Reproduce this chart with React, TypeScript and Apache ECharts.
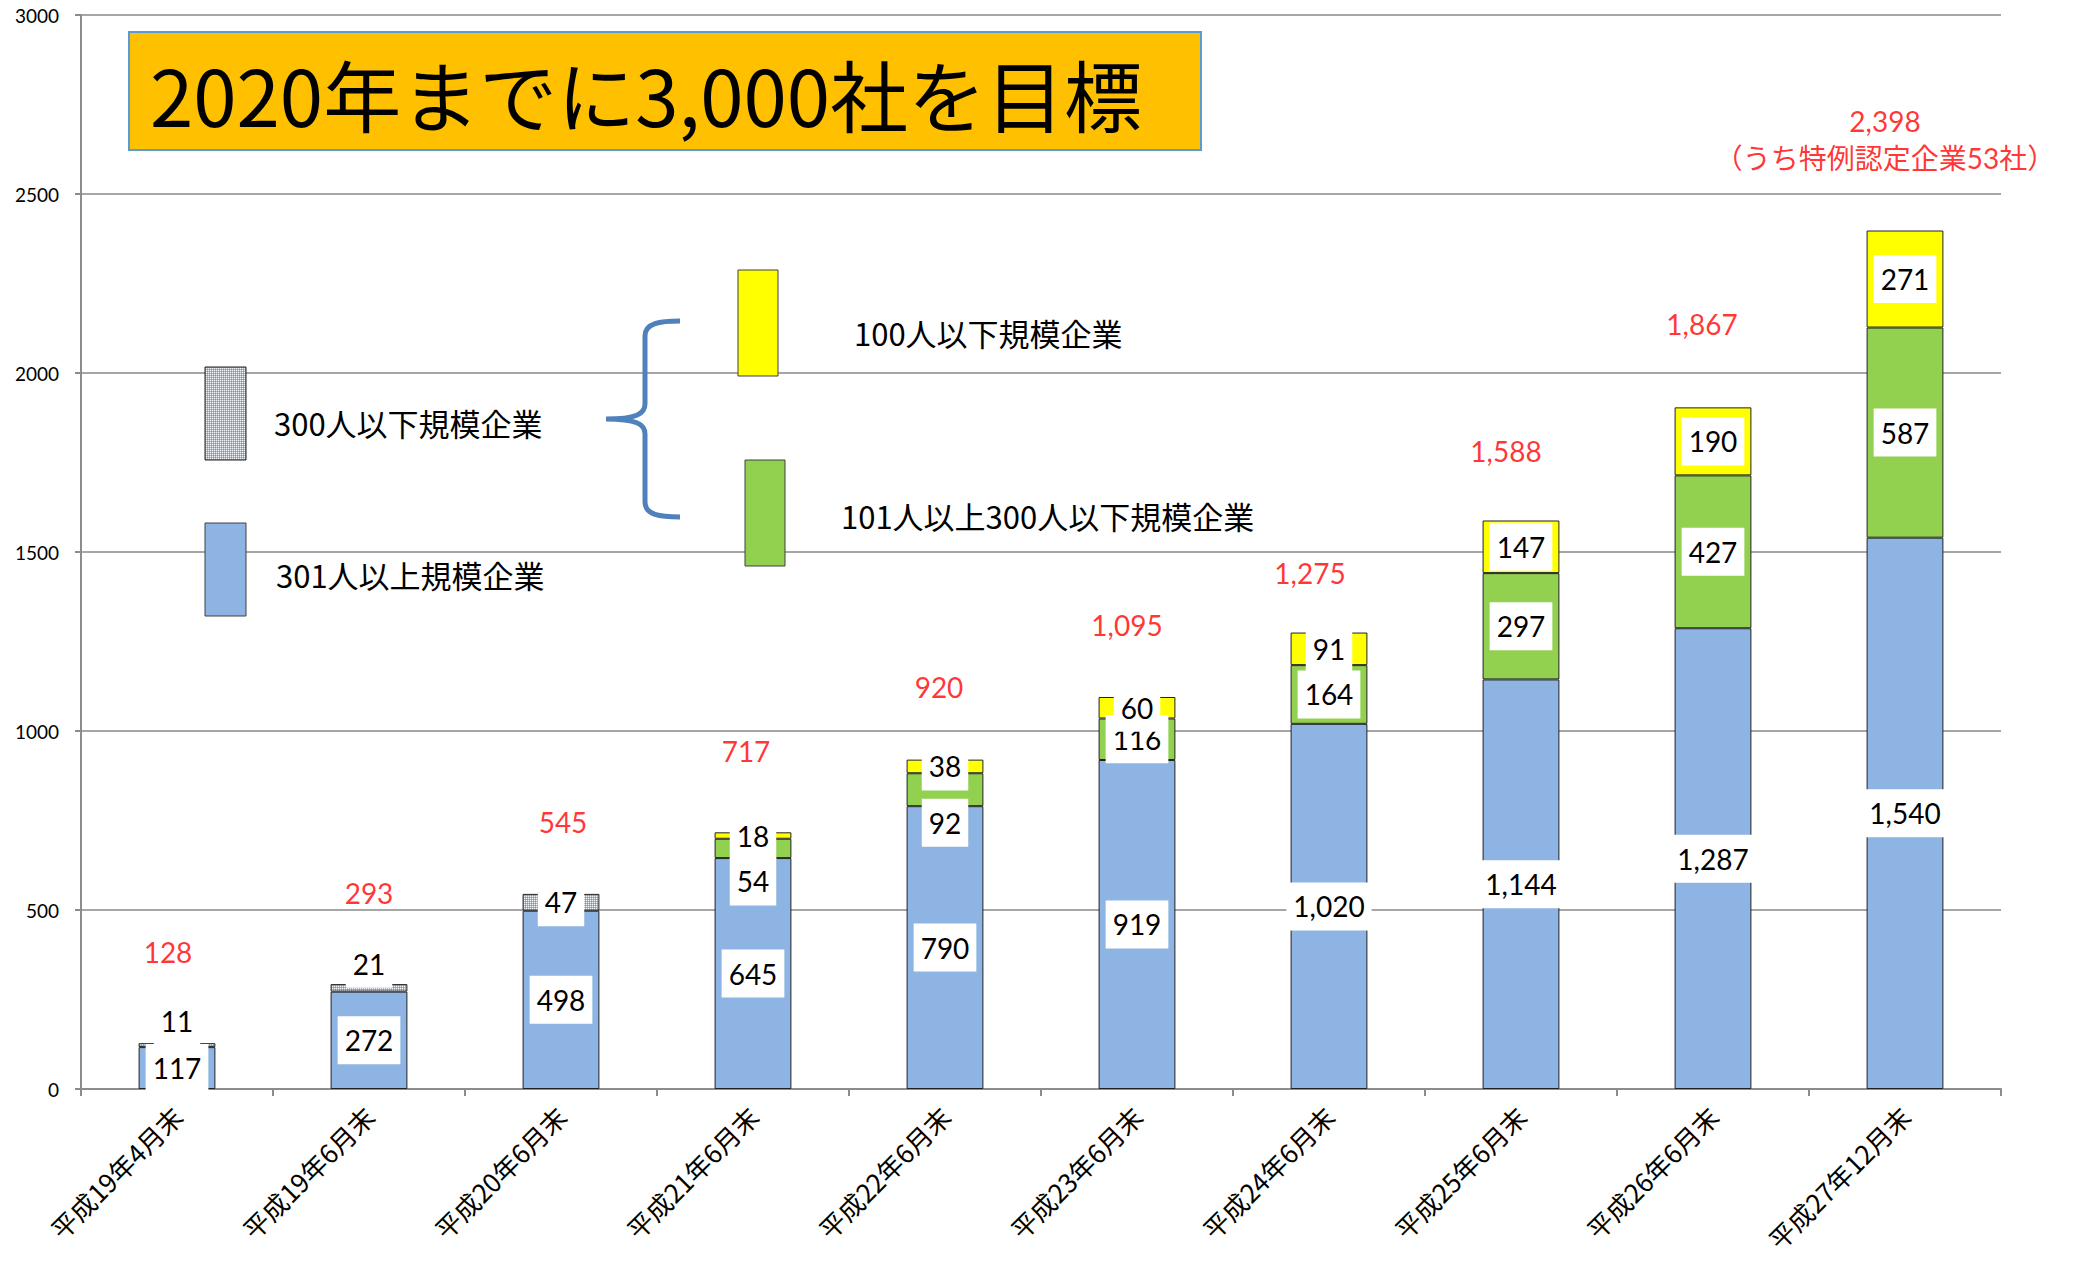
import React, { useEffect, useRef } from "react";
import * as echarts from "echarts";

// ---- data ----
const categories = [
  "平成19年4月末",
  "平成19年6月末",
  "平成20年6月末",
  "平成21年6月末",
  "平成22年6月末",
  "平成23年6月末",
  "平成24年6月末",
  "平成25年6月末",
  "平成26年6月末",
  "平成27年12月末",
];
const over300 = [117, 272, 498, 645, 790, 919, 1020, 1144, 1287, 1540];
const upTo300 = [11, 21, 47, null, null, null, null, null, null, null];
const from101to300 = [null, null, null, 54, 92, 116, 164, 297, 427, 587];
const upTo100 = [null, null, null, 18, 38, 60, 91, 147, 190, 271];
const totalLabels = [128, 293, 545, 717, 920, 1095, 1275, 1588, 1867, 2398];
const lastNote = "（うち特例認定企業53社）";
const seriesNames = ["301人以上規模企業", "300人以下規模企業", "101人以上300人以下規模企業", "100人以下規模企業"];
const titleText = "2020年までに3,000社を目標";

// ---- label placement styles (pixels) ----
const totalLift = [91, 91, 72, 81, 73, 72, 60, 69, 83, 91];
const totalDx = [-9, 0, 2, -7, -6, -10, -19, -15, -11, -20];

const NUM_FONT = "Lato, 'Noto Sans CJK JP', sans-serif";
const JP_FONT = "'Noto Sans CJK JP', sans-serif";

function fmt(v: number) {
  return Number(v).toLocaleString("en-US");
}

export default function App() {
  const ref = useRef<HTMLDivElement>(null);
  useEffect(() => {
    document.body.style.margin = "0";
    if (!ref.current) return;
    const chart = echarts.init(ref.current, null, { renderer: "svg" });

    const c = document.createElement("canvas");
    c.width = 2;
    c.height = 2;
    const ctx = c.getContext("2d")!;
    ctx.fillStyle = "#7896c6";
    ctx.fillRect(0, 0, 2, 2);
    ctx.fillStyle = "#f2f6fb";
    ctx.fillRect(0, 0, 1, 1);
    ctx.fillStyle = "#9cb6dc";
    ctx.fillRect(1, 0, 1, 1);
    ctx.fillRect(0, 1, 1, 1);
    const hatch: any = { image: c, repeat: "repeat", imageWidth: 2, imageHeight: 2 };

    try {
      echarts.graphic.registerShape(
        "brace",
        echarts.graphic.extendPath(
          "M680,321 C660,321 645,323 645,336 L645,404 C645,414 636,419 606,419 C636,419 645,424 645,434 L645,502 C645,515 660,517 680,517",
          {}
        )
      );
    } catch (e) {}

    const baseLabel = {
      show: true,
      position: "inside",
      backgroundColor: "#fff",
      padding: [7, 7],
      color: "#000",
      fontSize: 28,
      fontFamily: NUM_FONT,
      lineHeight: 34,
      formatter: (p: any) => fmt(p.value),
    };
    const border = { borderColor: "#222", borderWidth: 1 };

    const tops = categories.map((_, i) =>
      [over300, upTo300, from101to300, upTo100].reduce((s, arr) => s + (arr[i] || 0), 0)
    );

    const legendText = (x: number, y: number, text: string) => ({
      type: "text",
      z: 101,
      x,
      y,
      style: { text, fontSize: 31, fontFamily: JP_FONT, fill: "#000", verticalAlign: "middle" },
    });

    const option: any = {
      animation: false,
      backgroundColor: "#fff",
      grid: { left: 81, right: 77, top: 15, bottom: 174, containLabel: false },
      xAxis: {
        type: "category",
        data: categories,
        axisLine: { lineStyle: { color: "#8c8c8c", width: 2 } },
        axisTick: { show: true, length: 7, lineStyle: { color: "#8c8c8c", width: 2 } },
        axisLabel: {
          rotate: 45,
          interval: 0,
          fontSize: 26,
          fontFamily: JP_FONT,
          color: "#000",
          margin: 22,
        },
      },
      yAxis: {
        type: "value",
        min: 0,
        max: 3000,
        interval: 500,
        axisLine: { show: true, lineStyle: { color: "#8c8c8c", width: 2 } },
        axisTick: { show: true, length: 6, lineStyle: { color: "#8c8c8c", width: 2 } },
        splitLine: { lineStyle: { color: "#a6a6a6", width: 2 } },
        axisLabel: {
          fontSize: 19,
          fontFamily: NUM_FONT,
          color: "#000",
          margin: 22,
          formatter: (v: number) => String(v),
        },
      },
      series: [
        {
          name: seriesNames[0],
          type: "bar",
          stack: "total",
          barWidth: "40%",
          data: over300,
          itemStyle: { color: "#8EB4E3", ...border },
          label: baseLabel,
        },
        {
          name: seriesNames[1],
          type: "bar",
          stack: "total",
          data: upTo300.map((v, i) =>
            i < 2 ? { value: v, label: { offset: [0, -24] } } : v
          ),
          itemStyle: { color: hatch, ...border },
          label: baseLabel,
        },
        {
          name: seriesNames[2],
          type: "bar",
          stack: "total",
          data: from101to300.map((v, i) =>
            i === 3 || i === 4 ? { value: v, label: { offset: [0, 33] } } : v
          ),
          itemStyle: { color: "#92D050", ...border },
          label: baseLabel,
        },
        {
          name: seriesNames[3],
          type: "bar",
          stack: "total",
          data: upTo100,
          itemStyle: { color: "#FFFF00", ...border },
          label: baseLabel,
        },
        {
          name: "total",
          type: "scatter",
          symbolSize: 1,
          itemStyle: { color: "rgba(0,0,0,0)" },
          z: 10,
          data: tops.map((v, i) => ({
            value: v,
            label: { offset: [totalDx[i], -totalLift[i]] },
          })),
          label: {
            show: true,
            position: "inside",
            color: "#FF0000",
            fontSize: 28,
            fontFamily: NUM_FONT,
            lineHeight: 37,
            align: "center",
            formatter: (p: any) => {
              const i = p.dataIndex;
              const t = fmt(totalLabels[i]);
              return i === totalLabels.length - 1 ? t + "\n" + lastNote : t;
            },
          },
        },
      ],
      graphic: [
        {
          type: "rect",
          z: 100,
          shape: { x: 129, y: 32, width: 1072, height: 118 },
          style: { fill: "#FFC000", stroke: "#5B9BD5", lineWidth: 2 },
        },
        {
          type: "text",
          z: 101,
          x: 150,
          y: 93,
          style: {
            text: titleText,
            fontSize: 78,
            fontFamily: JP_FONT,
            fill: "#000",
            align: "left",
            verticalAlign: "middle",
          },
        },
        {
          type: "rect",
          z: 100,
          shape: { x: 205, y: 367, width: 41, height: 93 },
          style: { fill: hatch, stroke: "#222", lineWidth: 1 },
        },
        {
          type: "rect",
          z: 100,
          shape: { x: 205, y: 523, width: 41, height: 93 },
          style: { fill: "#8EB4E3", stroke: "#404040", lineWidth: 1 },
        },
        {
          type: "rect",
          z: 100,
          shape: { x: 738, y: 270, width: 40, height: 106 },
          style: { fill: "#FFFF00", stroke: "#404040", lineWidth: 1 },
        },
        {
          type: "rect",
          z: 100,
          shape: { x: 745, y: 460, width: 40, height: 106 },
          style: { fill: "#92D050", stroke: "#404040", lineWidth: 1 },
        },
        {
          type: "brace",
          z: 100,
          x: 0,
          y: 0,
          style: { fill: "none", stroke: "#4F81BD", lineWidth: 5 },
        },
        legendText(274, 422, seriesNames[1]),
        legendText(276, 574, seriesNames[0]),
        legendText(854, 332, seriesNames[3]),
        legendText(841, 515, seriesNames[2]),
      ],
    };
    chart.setOption(option);
    return () => chart.dispose();
  }, []);
  return (
    <div
      ref={ref}
      style={{ position: "fixed", left: 0, top: 0, width: 2078, height: 1263, background: "#fff" }}
    />
  );
}
